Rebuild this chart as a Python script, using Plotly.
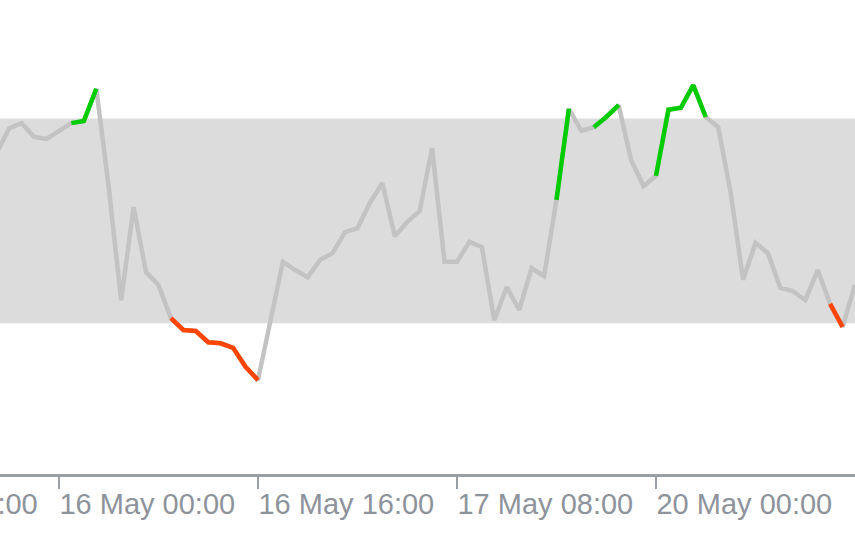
import plotly.graph_objects as go

# hourly index (0 = 16 May 00:00), weekend hours skipped
hours = list(range(-5, 65))
rsi = [
    63.3, 68.1, 69.1, 66.4, 66.0, 67.6, 69.1, 69.5, 75.8, 56.6,
    34.5, 52.7, 40.0, 37.5, 31.0, 28.7, 28.5, 26.3, 26.1, 25.2,
    21.5, 18.9, 30.6, 42.0, 40.4, 39.0, 42.4, 43.7, 47.8, 48.6,
    53.5, 57.4, 47.0, 49.8, 51.9, 64.2, 42.0, 42.0, 45.9, 44.9,
    30.6, 37.1, 32.6, 40.8, 39.2, 54.1, 71.9, 67.6, 68.3, 70.3,
    72.6, 61.9, 56.8, 58.8, 71.7, 72.1, 76.5, 70.3, 68.3, 55.6,
    38.5, 45.7, 43.7, 36.9, 36.3, 34.5, 40.4, 33.8, 29.3, 37.5,
]
green_hours = [1, 2, 3, 40, 41, 43, 44, 45, 48, 49, 50, 51, 52]
red_hours = [9, 10, 11, 12, 13, 14, 15, 16, 62, 63]

band_low, band_high = 30, 70
x_range = [-4.74, 64.0]
y_range = [0.57, 93.14]

tick_hours = [-16, 0, 16, 32, 48]
tick_labels = ["15 May 08:00", "16 May 00:00", "16 May 16:00", "17 May 08:00", "20 May 00:00"]

GRAY = "#c3c3c3"
GREEN = "#00cc00"
RED = "#ff4500"
AXIS = "#9a9fa6"
TEXT = "#8e939b"
FONT = "Liberation Sans, Arial, sans-serif"
FSIZE = 29
LW = 4.5

green_y = [v if h in green_hours else None for h, v in zip(hours, rsi)]
red_y = [v if h in red_hours else None for h, v in zip(hours, rsi)]

fig = go.Figure()
fig.add_trace(go.Scatter(x=hours, y=rsi, mode="lines",
                         line=dict(color=GRAY, width=LW), hoverinfo="skip"))
fig.add_trace(go.Scatter(x=hours, y=green_y, mode="lines", connectgaps=False,
                         line=dict(color=GREEN, width=LW), hoverinfo="skip"))
fig.add_trace(go.Scatter(x=hours, y=red_y, mode="lines", connectgaps=False,
                         line=dict(color=RED, width=LW), hoverinfo="skip"))

fig.add_shape(type="rect", xref="paper", x0=0, x1=1, yref="y",
              y0=band_low, y1=band_high, fillcolor="#dcdcdc",
              line=dict(width=0), layer="below")

visible = [(h, t) for h, t in zip(tick_hours, tick_labels) if x_range[0] <= h <= x_range[1]]
hidden = [(h, t) for h, t in zip(tick_hours, tick_labels) if not (x_range[0] <= h <= x_range[1])]

fig.update_layout(
    width=855, height=534,
    margin=dict(l=0, r=0, t=0, b=60, autoexpand=False),
    paper_bgcolor="white", plot_bgcolor="white",
    showlegend=False,
    xaxis=dict(range=x_range, tickvals=[h for h, _ in visible],
               ticktext=[t for _, t in visible],
               ticks="outside", ticklen=12, tickwidth=2, tickcolor=AXIS,
               ticklabelposition="outside right", ticklabelshift=-2,
               ticklabelstandoff=2, ticklabeloverflow="allow",
               showline=True, linecolor=AXIS, linewidth=3,
               showgrid=False, zeroline=False, automargin=False,
               tickfont=dict(family=FONT, size=FSIZE, color=TEXT)),
    yaxis=dict(range=y_range, visible=False, showgrid=False, zeroline=False,
               automargin=False),
)

# labels of ticks lying left of the visible window (partly cut by the edge)
span = x_range[1] - x_range[0]
for h, t in hidden:
    fig.add_annotation(x=(h - x_range[0]) / span, xref="paper", xanchor="left",
                       y=0, yref="paper", yanchor="top", yshift=-12,
                       text=t, showarrow=False,
                       font=dict(family=FONT, size=FSIZE, color=TEXT))

fig.write_html("out.html", config={"displayModeBar": False},
               post_script="document.body.style.margin='0';"
                           "document.body.style.overflow='hidden';")
